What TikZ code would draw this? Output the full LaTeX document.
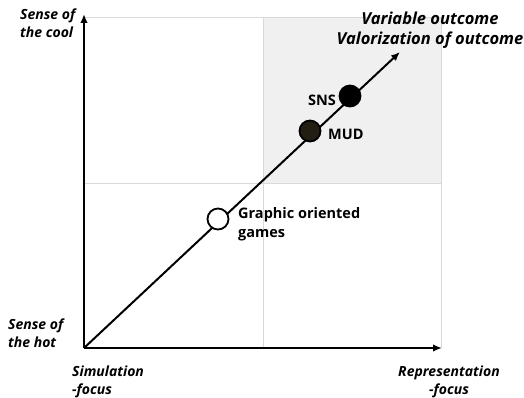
\documentclass[tikz,border=0pt]{standalone}
\usepackage{fontspec}
\setmainfont{Open Sans}
\usetikzlibrary{arrows.meta}
\definecolor{shadec}{HTML}{F0F0F0}
\definecolor{gridc}{HTML}{D9D9D9}
\definecolor{mudc}{HTML}{221E14}
\begin{document}
\begin{tikzpicture}[x=1pt,y=-1pt,
  axislab/.style={font=\bfseries\itshape\fontsize{14}{18}\selectfont, inner sep=0pt},
  ptlab/.style={font=\bfseries\fontsize{14.5}{19}\selectfont, inner sep=0pt},
  dot/.style={circle, draw=black, line width=1.8pt, minimum size=21pt, inner sep=0pt},
  axisline/.style={line width=2pt, -{Latex[length=9pt,width=7.5pt]}},
  gridline/.style={gridc, line width=0.9pt}]
\useasboundingbox (0,0) rectangle (524,398);
\fill[shadec] (263,17) rectangle (441,183);
\draw[gridline] (84,17) -- (441,17) -- (441,348);
\draw[gridline] (263,17) -- (263,348);
\draw[gridline] (84,183) -- (441,183);
\coordinate (O) at (84,348);
\coordinate (ytop) at (84,14);
\coordinate (xend) at (442,348);
\coordinate (dend) at (400,52);
\draw[axisline] (O) -- (ytop);
\draw[axisline] (O) -- (xend);
\draw[axisline] (O) -- (dend);
\node[dot, fill=white] (g) at (218,219) {};
\node[dot, fill=mudc] (mud) at (310,131) {};
\node[dot, fill=black] (sns) at (350,96) {};
\node[ptlab, anchor=east] (snsl) at (336,100) {SNS};
\node[ptlab, anchor=west] (mudl) at (328,134) {MUD};
\node[ptlab, anchor=north west, align=left] (gl) at (238,207) {Graphic oriented\\games};
\node[axislab, align=center, font=\bfseries\itshape\fontsize{16.5}{20}\selectfont] (top) at (430,30) {Variable outcome\\Valorization of outcome};
\node[axislab, align=left, anchor=north west] (cool) at (20,9) {Sense of\\the cool};
\node[axislab, align=left, anchor=north west] (hot) at (8,319) {Sense of\\the hot};
\node[axislab, align=left, anchor=north west] (sim) at (72,366) {Simulation\\-focus};
\node[axislab, align=center, anchor=north] (rep) at (449,366) {Representation\\-focus};
\end{tikzpicture}
\end{document}
